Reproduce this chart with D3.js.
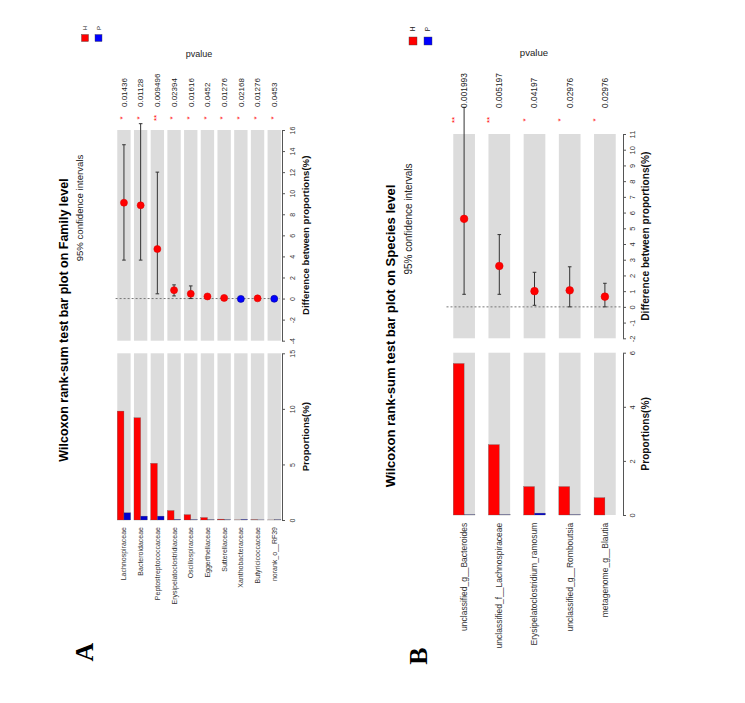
<!DOCTYPE html>
<html><head><meta charset="utf-8">
<script src="https://cdn.jsdelivr.net/npm/d3@7"></script>
<style>body{margin:0;background:#fff;} svg{display:block;}</style>
</head><body>
<svg id="chart" width="745" height="703"></svg>
<script>
// ---------- DATA ----------
const familyCategories = ["Lachnospiraceae","Bacteroidaceae","Peptostreptococcaceae","Erysipelatoclostridiaceae","Oscillospiraceae","Eggerthellaceae","Sutterellaceae","Xanthobacteraceae","Butyricicoccaceae","norank_o__RF39"];
const familyH = [9.8, 9.2, 5.1, 0.85, 0.48, 0.22, 0.08, 0.01, 0.03, 0.005];
const familyP = [0.65, 0.35, 0.35, 0.05, 0.03, 0.02, 0.02, 0.05, 0.01, 0.02];
const familyDiff = [9.1, 8.85, 4.7, 0.8, 0.45, 0.2, 0.06, -0.03, 0.02, -0.02];
const familyLow = [3.65, 3.65, 0.45, 0.25, 0.0, 0.1, 0.02, -0.06, 0.0, -0.04];
const familyHigh = [14.6, 16.6, 12.0, 1.3, 1.2, 0.3, 0.1, 0.0, 0.05, 0.0];
const familyPvalue = ["0.01436","0.01128","0.009496","0.02394","0.01616","0.0452","0.01276","0.02168","0.01276","0.0453"];
const familyStars = ["*","*","**","*","*","*","*","*","*","*"];
const familyDiffTicks = [-4,-2,0,2,4,6,8,10,12,14,16];
const familyPropTicks = [0,5,10,15];

const speciesCategories = ["unclassified_g__Bacteroides","unclassified_f__Lachnospiraceae","Erysipelatoclostridium_ramosum","unclassified_g__Romboutsia","metagenome_g__Blautia"];
const speciesH = [5.6, 2.6, 1.05, 1.05, 0.64];
const speciesP = [0.01, 0.01, 0.07, 0.01, 0.0];
const speciesDiff = [5.6, 2.6, 1.0, 1.05, 0.65];
const speciesLow = [0.8, 0.8, 0.1, 0.0, 0.0];
const speciesHigh = [12.7, 4.6, 2.2, 2.55, 1.5];
const speciesPvalue = ["0.001993","0.005197","0.04197","0.02976","0.02976"];
const speciesStars = ["**","**","*","*","*"];
const speciesDiffTicks = [-2,-1,0,1,2,3,4,5,6,7,8,9,10,11];
const speciesPropTicks = [0,2,4,6];

const groups = ["H","P"];
const groupColors = ["#ff0000","#0000cc"];

// ---------- DRAW ----------
const svg = d3.select("#chart");
const FONT = "'Liberation Sans', Arial, Helvetica, sans-serif";

function rtext(g, x, y, txt, o = {}) {
  return g.append("text")
    .attr("transform", `translate(${x},${y}) rotate(-90)`)
    .attr("dy", o.dy || "0.35em")
    .attr("text-anchor", o.anchor || "middle")
    .attr("font-family", o.family || FONT)
    .attr("font-size", o.size || 8)
    .attr("font-weight", o.weight || "normal")
    .attr("fill", o.fill || "#222")
    .text(txt);
}

function panel(cfg) {
  const g = svg.append("g");
  const rows = cfg.cats.map((c, i) => ({cat: c, h: cfg.H[i], p: cfg.P[i], d: cfg.diff[i], lo: cfg.low[i], hi: cfg.high[i], pv: cfg.pval[i], st: cfg.stars[i]}));
  const x = d3.scaleBand().domain(cfg.cats).range(cfg.xRange).paddingInner(cfg.pad).paddingOuter(cfg.pad / 2);
  const yCI = d3.scaleLinear().domain(cfg.ciDomain).range(cfg.ciRange);
  const yBar = d3.scaleLinear().domain(cfg.barDomain).range(cfg.barRange);
  const bw = x.bandwidth();

  // gray backgrounds
  g.selectAll(".bgci").data(rows).enter().append("rect")
    .attr("x", d => x(d.cat)).attr("width", bw)
    .attr("y", yCI(cfg.ciDomain[1])).attr("height", yCI(cfg.ciDomain[0]) - yCI(cfg.ciDomain[1]))
    .attr("fill", "#dcdcdc");
  g.selectAll(".bgbar").data(rows).enter().append("rect")
    .attr("x", d => x(d.cat)).attr("width", bw)
    .attr("y", yBar(cfg.barDomain[1])).attr("height", yBar(0) - yBar(cfg.barDomain[1]))
    .attr("fill", "#dcdcdc");

  // bars
  groups.forEach((gr, gi) => {
    g.selectAll(".bar" + gi).data(rows).enter().append("rect")
      .attr("x", d => x(d.cat) + gi * bw / 2).attr("width", bw / 2)
      .attr("y", d => yBar(gi === 0 ? d.h : d.p))
      .attr("height", d => yBar(0) - yBar(gi === 0 ? d.h : d.p))
      .attr("fill", groupColors[gi]).attr("stroke", "#5a5a5a").attr("stroke-width", 0.3);
  });

  // zero dashed line
  g.append("line")
    .attr("x1", cfg.xRange[0]).attr("x2", cfg.axisX - 2)
    .attr("y1", yCI(0)).attr("y2", yCI(0))
    .attr("stroke", "#777").attr("stroke-width", 1).attr("stroke-dasharray", "2,2");

  // error bars
  const cx = d => x(d.cat) + bw / 2;
  g.selectAll(".err").data(rows).enter().append("line")
    .attr("x1", cx).attr("x2", cx).attr("y1", d => yCI(d.lo)).attr("y2", d => yCI(d.hi))
    .attr("stroke", "#333").attr("stroke-width", 1);
  ["lo", "hi"].forEach(k => {
    g.selectAll(".cap" + k).data(rows).enter().append("line")
      .attr("x1", d => cx(d) - 1.8).attr("x2", d => cx(d) + 1.8)
      .attr("y1", d => yCI(d[k])).attr("y2", d => yCI(d[k]))
      .attr("stroke", "#333").attr("stroke-width", 1);
  });
  // points
  g.selectAll(".pt").data(rows).enter().append("circle")
    .attr("cx", cx).attr("cy", d => yCI(d.d)).attr("r", cfg.r)
    .attr("fill", d => d.d >= 0 ? "#ff0000" : "#0000ff")
    .attr("stroke", d => d.d >= 0 ? "#e00000" : "#000099").attr("stroke-width", 0.6);

  // axes
  function rightAxis(scale, ticks) {
    const ax = g.append("g").attr("transform", `translate(${cfg.axisX},0)`)
      .call(d3.axisRight(scale).tickValues(ticks).tickFormat(d => String(d)).tickSize(3).tickSizeOuter(0));
    ax.select(".domain").attr("stroke", "#555");
    ax.selectAll(".tick line").attr("stroke", "#555");
    ax.selectAll("text").attr("x", null).attr("y", null)
      .attr("transform", `translate(${cfg.tickOff},0) rotate(-90)`)
      .attr("dy", "0.35em").attr("text-anchor", "middle")
      .attr("font-family", FONT).attr("font-size", cfg.tickSize).attr("fill", "#333");
  }
  rightAxis(yCI, cfg.ciTicks);
  rightAxis(yBar, cfg.barTicks);

  // axis titles
  rtext(g, cfg.axisTitleX, (cfg.ciRange[0] + cfg.ciRange[1]) / 2, "Difference between proportions(%)", {size: cfg.axisTitleSize, weight: "bold", fill: "#111"});
  rtext(g, cfg.axisTitleX, (cfg.barRange[0] + cfg.barRange[1]) / 2, "Proportions(%)", {size: cfg.axisTitleSize, weight: "bold", fill: "#111"});

  // category labels
  rows.forEach(d => rtext(g, cx(d), cfg.labelY, d.cat, {anchor: "end", size: cfg.labelSize, fill: "#333"}));
  // p-values
  rows.forEach(d => rtext(g, cx(d), cfg.pvalY, d.pv, {anchor: "start", size: cfg.pvalSize, fill: "#222"}));
  // stars
  rows.forEach(d => rtext(g, x(d.cat) + cfg.starOff, cfg.starY, d.st, {size: cfg.starSize, fill: "#ff0000", dy: "0.75em"}));

  // pvalue header
  g.append("text").attr("x", cfg.pvHeader[0]).attr("y", cfg.pvHeader[1]).attr("dy", "0.35em")
    .attr("text-anchor", "middle").attr("font-family", FONT).attr("font-size", cfg.pvHeaderSize).attr("fill", "#222").text("pvalue");

  // legend
  groups.forEach((gr, gi) => {
    const lx = cfg.legX[gi];
    g.append("rect").attr("x", lx - cfg.legSize / 2).attr("y", cfg.legY - cfg.legSize / 2)
      .attr("width", cfg.legSize).attr("height", cfg.legSize).attr("fill", gi === 1 ? "#0000ff" : "#ff0000")
      .attr("stroke", "#444").attr("stroke-width", 0.4);
    rtext(g, lx, cfg.legTextY, gr, {size: cfg.legTextSize, fill: "#222"});
  });

  // titles
  rtext(g, cfg.titleX, cfg.titleY, cfg.title, {size: cfg.titleSize, weight: "bold", fill: "#000"});
  rtext(g, cfg.subX, cfg.subY, "95% confidence intervals", {size: cfg.subSize, fill: "#222"});
  // panel letter
  rtext(g, cfg.letter[0], cfg.letter[1], cfg.letter[2], {size: 26, weight: "bold", family: "'Liberation Serif', 'Times New Roman', serif", fill: "#000"});
}

panel({
  cats: familyCategories, H: familyH, P: familyP, diff: familyDiff, low: familyLow, high: familyHigh,
  pval: familyPvalue, stars: familyStars, ciTicks: familyDiffTicks, barTicks: familyPropTicks,
  xRange: [115.6, 282.6], pad: 0.2, axisX: 282,
  ciDomain: [-4, 16], ciRange: [340.7, 130], barDomain: [0, 15], barRange: [520, 353.3],
  r: 3.5, tickOff: 10.5, tickSize: 7, axisTitleX: 305.5, axisTitleSize: 9.6,
  labelY: 527, labelSize: 7, pvalY: 107, pvalSize: 8, starY: 118, starOff: 2, starSize: 8,
  pvHeader: [199, 54], pvHeaderSize: 9,
  legX: [85, 98.5], legY: 38, legSize: 7, legTextY: 28, legTextSize: 6,
  title: "Wilcoxon rank-sum test bar plot on Family level", titleX: 63.5, titleY: 320, titleSize: 12.5,
  subX: 79.5, subY: 208, subSize: 9.6, letter: [84, 652, "A"]
});

panel({
  cats: speciesCategories, H: speciesH, P: speciesP, diff: speciesDiff, low: speciesLow, high: speciesHigh,
  pval: speciesPvalue, stars: speciesStars, ciTicks: speciesDiffTicks, barTicks: speciesPropTicks,
  xRange: [446.5, 622.5], pad: 0.384, axisX: 623,
  ciDomain: [-2, 11], ciRange: [338.3, 134], barDomain: [0, 6], barRange: [515, 352.7],
  r: 3.8, tickOff: 9.5, tickSize: 7.5, axisTitleX: 645, axisTitleSize: 10.2,
  labelY: 522.7, labelSize: 8.5, pvalY: 108, pvalSize: 8.4, starY: 120, starOff: -2, starSize: 8,
  pvHeader: [534, 53], pvHeaderSize: 9.6,
  legX: [413, 428], legY: 41, legSize: 8, legTextY: 29, legTextSize: 6.5,
  title: "Wilcoxon rank-sum test bar plot on Species level", titleX: 390.5, titleY: 336, titleSize: 13,
  subX: 408.5, subY: 219, subSize: 10, letter: [418, 656, "B"]
});
</script>
</body></html>
